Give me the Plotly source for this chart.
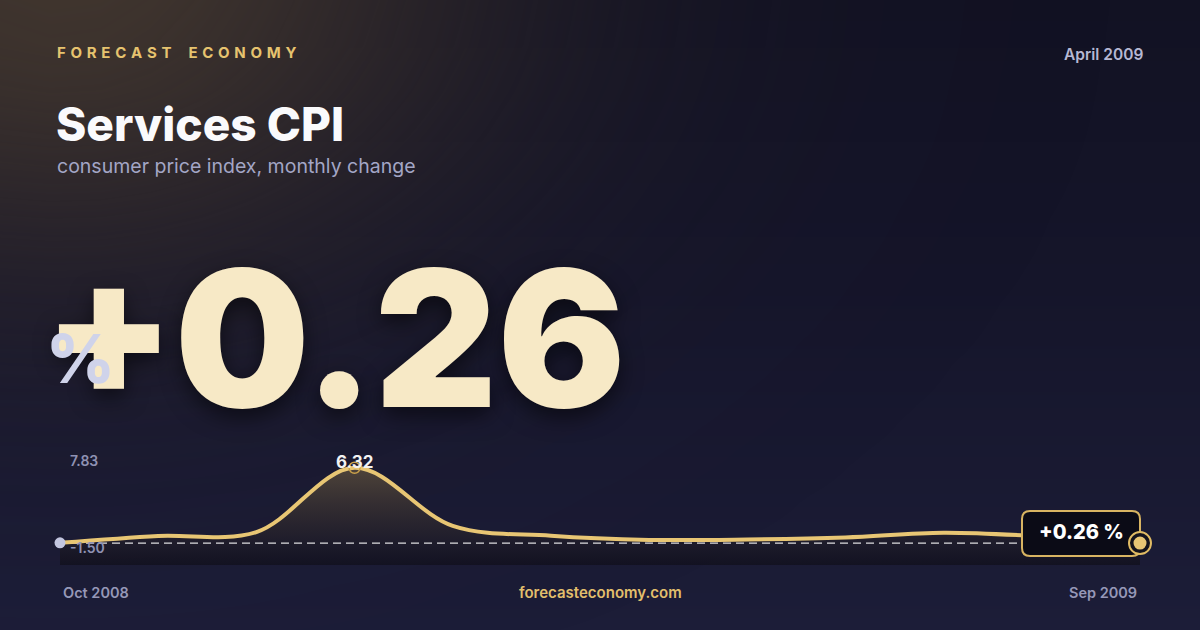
import numpy as np
import plotly.graph_objects as go

# ---------------- data ----------------
months = ["Oct 2008", "Nov 2008", "Dec 2008", "Jan 2009", "Feb 2009", "Mar 2009",
          "Apr 2009", "May 2009", "Jun 2009", "Jul 2009", "Aug 2009", "Sep 2009"]
values = [0.28, 0.84, 1.15, 6.32, 1.65, 0.85, 0.52, 0.55, 0.72, 1.10, 0.80, 0.26]
axis_labels = [7.83, -1.50]          # top / bottom scale labels
brand = "FORECAST ECONOMY"
report_date = "April 2009"
title = "Services CPI"
subtitle = "consumer price index, monthly change"
site = "forecasteconomy.com"

W, H = 1200, 630
x_idx = list(range(len(months)))
last = values[-1]
peak_i = int(np.argmax(values))


def px(x):
    return x / W


def py(y):
    return 1 - y / H


fig = go.Figure()

# ---------------- background (decorative gradient) ----------------
gx = np.linspace(0, W, 25)
gy = np.linspace(0, H, 15)
zv = np.repeat((gy / H)[:, None], len(gx), axis=1)
fig.add_trace(go.Heatmap(x=gx, y=gy, z=zv, zsmooth="best", showscale=False,
                         zmin=0, zmax=1, hoverinfo="skip",
                         colorscale=[[0, "#121223"], [0.45, "#15152a"], [1, "#1c1d38"]],
                         xaxis="x", yaxis="y"))
GX, GY = np.meshgrid(gx, gy)
zg = np.exp(-(((GX - 60) / 420) ** 2 + ((GY + 30) / 300) ** 2))
fig.add_trace(go.Heatmap(x=gx, y=gy, z=zg, zsmooth="best", showscale=False,
                         zmin=0, zmax=1, hoverinfo="skip",
                         colorscale=[[0, "rgba(64,53,46,0)"], [1, "rgba(64,53,46,1)"]],
                         xaxis="x", yaxis="y"))

# ---------------- chart ----------------
ymin, ymax = axis_labels[1], axis_labels[0]
fig.add_trace(go.Scatter(x=x_idx, y=[ymin] * len(x_idx), mode="lines",
                         line=dict(width=0), hoverinfo="skip", showlegend=False,
                         xaxis="x2", yaxis="y2"))
fig.add_trace(go.Scatter(x=x_idx, y=values, mode="lines", fill="tonexty",
                         line=dict(width=0, shape="spline", smoothing=1),
                         fillgradient=dict(type="vertical", start=ymin, stop=max(values),
                                           colorscale=[[0, "rgba(12,11,18,0.55)"],
                                                       [0.25, "rgba(34,30,38,0.6)"],
                                                       [1, "rgba(92,78,60,0.8)"]]),
                         hoverinfo="skip", showlegend=False, xaxis="x2", yaxis="y2"))
fig.add_trace(go.Scatter(x=[x_idx[0], x_idx[-1]], y=[last, last], mode="lines",
                         line=dict(color="rgba(255,255,255,0.85)", width=1.3, dash="8px,5px"),
                         hoverinfo="skip", showlegend=False, xaxis="x2", yaxis="y2"))
fig.add_trace(go.Scatter(x=x_idx, y=values, mode="lines",
                         line=dict(color="#e8c674", width=4, shape="spline", smoothing=1),
                         hoverinfo="skip", showlegend=False, xaxis="x2", yaxis="y2",
                         cliponaxis=False))
fig.add_trace(go.Scatter(x=[x_idx[0]], y=[values[0]], mode="markers",
                         marker=dict(size=11, color="#c3c6df"), cliponaxis=False,
                         hoverinfo="skip", showlegend=False, xaxis="x2", yaxis="y2"))
fig.add_trace(go.Scatter(x=[x_idx[peak_i]], y=[values[peak_i]], mode="markers",
                         marker=dict(size=11, color="rgba(0,0,0,0)",
                                     line=dict(color="#c9a04a", width=1.5)),
                         cliponaxis=False, hoverinfo="skip", showlegend=False,
                         xaxis="x2", yaxis="y2"))

# ---------------- shapes ----------------
bx0, bx1, by0, by1, r = 1022, 1140, 511, 556, 8


def P(x, y):
    return f"{px(x)},{py(y)}"


box_path = (f"M {P(bx0 + r, by0)} L {P(bx1 - r, by0)} Q {P(bx1, by0)} {P(bx1, by0 + r)} "
            f"L {P(bx1, by1 - r)} Q {P(bx1, by1)} {P(bx1 - r, by1)} "
            f"L {P(bx0 + r, by1)} Q {P(bx0, by1)} {P(bx0, by1 - r)} "
            f"L {P(bx0, by0 + r)} Q {P(bx0, by0)} {P(bx0 + r, by0)} Z")
shapes = [
    dict(type="path", path=box_path, xref="paper", yref="paper",
         fillcolor="#0b0b16", line=dict(color="#d8b462", width=2), layer="above"),
    dict(type="circle", xref="x2", yref="y2", xsizemode="pixel", ysizemode="pixel",
         xanchor=x_idx[-1], yanchor=last, x0=-11, x1=11, y0=-11, y1=11,
         fillcolor="#14131c", line=dict(color="#e0bb64", width=2), layer="above"),
    dict(type="circle", xref="x2", yref="y2", xsizemode="pixel", ysizemode="pixel",
         xanchor=x_idx[-1], yanchor=last, x0=-6.5, x1=6.5, y0=-6.5, y1=6.5,
         fillcolor="#e8c674", line=dict(width=0), layer="above"),
]

# ---------------- text ----------------
F = "Inter, 'Noto Sans', sans-serif"
gap = "\u2009\u2009"
spaced = " ".join(gap.join(list(w)) for w in brand.split(" "))
spaced = spaced.replace(" ", gap + "\u2002" + gap)


def ann(text, x, y, size, color, weight=400, xanchor="left", **kw):
    return dict(text=text, x=px(x), y=py(y), xref="paper", yref="paper",
                xanchor=xanchor, yanchor="middle", showarrow=False,
                font=dict(family=F, size=size, color=color, weight=weight), **kw)


annotations = [
    ann(spaced, 55, 52, 15, "#e6c36f", 700),
    ann(report_date, 1145, 54, 15.5, "#b6b8d3", 600, xanchor="right"),
    ann(title, 54, 124, 46, "#fafafc", 800),
    ann(subtitle, 55, 166, 19.5, "#a3a6c6", 400),
    dict(text=f"{last:+.2f}", x=px(41), y=py(338), xref="paper", yref="paper",
         xanchor="left", yanchor="middle", showarrow=False,
         font=dict(family=F, size=190, color="#f7e9c6", weight=900,
                   shadow="0px 8px 22px rgba(0,0,0,0.55)")),
    ann("%", 44, 358, 67, "#cfd3ea", 800),
    ann(f"{axis_labels[0]:.2f}", 68, 461, 14, "#8f92b3", 600),
    ann(f"{axis_labels[1]:.2f}", 68, 547, 14, "#8f92b3", 600),
    dict(text=f"{values[peak_i]:.2f}", x=x_idx[peak_i], y=values[peak_i], xref="x2", yref="y2",
         xanchor="center", yanchor="middle", yshift=6, showarrow=False,
         font=dict(family=F, size=17, color="#f2f2f2", weight=700)),
    ann(f"{last:+.2f} %", 1081, 532, 20, "#ffffff", 800, xanchor="center"),
    ann(months[0], 61, 592, 14.5, "#9698b8", 600),
    ann(site, 600, 592, 15, "#e2bf6c", 600, xanchor="center"),
    ann(months[-1], 1139, 592, 14.5, "#9698b8", 600, xanchor="right"),
]

# plot area padded by 20px on the right so the end marker is not clipped
span = x_idx[-1] - x_idx[0]
pad_units = 20 * span / 1080
fig.update_layout(
    width=W, height=H, autosize=False,
    margin=dict(l=0, r=0, t=0, b=0),
    paper_bgcolor="#15152a", plot_bgcolor="rgba(0,0,0,0)",
    showlegend=False, hovermode=False,
    xaxis=dict(domain=[0, 1], range=[0, W], visible=False, fixedrange=True),
    yaxis=dict(domain=[0, 1], range=[H, 0], visible=False, fixedrange=True),
    xaxis2=dict(domain=[px(60), px(1160)], range=[x_idx[0], x_idx[-1] + pad_units],
                visible=False, anchor="y2", fixedrange=True),
    yaxis2=dict(domain=[py(565), py(449)], range=[ymin, ymax], visible=False,
                anchor="x2", fixedrange=True),
    shapes=shapes, annotations=annotations,
)

fig.write_html("out.html", config={"displayModeBar": False},
               post_script="document.body.style.margin='0';document.body.style.background='#15152a';")
